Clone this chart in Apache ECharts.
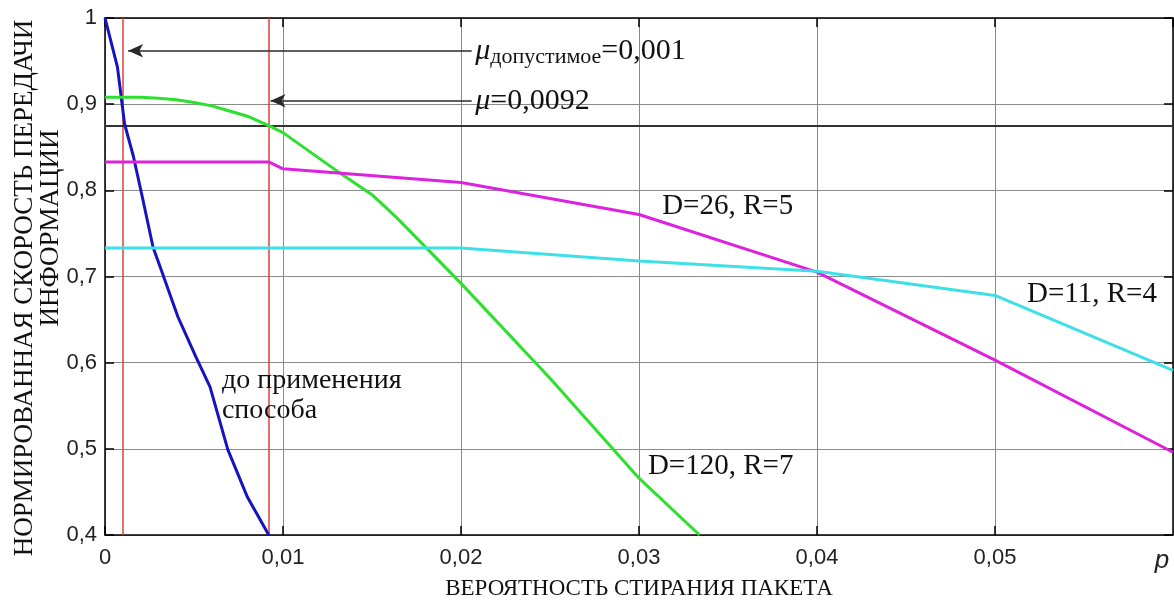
<!DOCTYPE html>
<html>
<head>
<meta charset="utf-8">
<script src="https://cdn.jsdelivr.net/npm/echarts@6/dist/echarts.min.js"></script>
<style>
  html, body { margin: 0; padding: 0; background: #fff; }
  #main { width: 1174px; height: 602px; }
</style>
</head>
<body>
<div id="main"></div>
<script>
// до применения способа
var blueP = [0, 0.0007, 0.0011, 0.0016, 0.0021, 0.0027, 0.0031, 0.0041, 0.0051, 0.0059, 0.0069, 0.0080, 0.0092];
var blueV = [1.0, 0.943, 0.877, 0.839, 0.792, 0.734, 0.711, 0.653, 0.607, 0.572, 0.499, 0.444, 0.40];
// D=120, R=7
var greenP = [0, 0.001, 0.002, 0.003, 0.004, 0.005, 0.006, 0.007, 0.008, 0.0092, 0.01, 0.0132, 0.015, 0.0164, 0.02, 0.025, 0.03, 0.0334];
var greenV = [0.908, 0.908, 0.908, 0.907, 0.905, 0.902, 0.898, 0.892, 0.886, 0.875, 0.867, 0.82, 0.795, 0.768, 0.692, 0.582, 0.466, 0.40];
// D=26, R=5
var magentaP = [0, 0.0092, 0.01, 0.02, 0.03, 0.04, 0.05, 0.06];
var magentaV = [0.833, 0.833, 0.825, 0.809, 0.772, 0.705, 0.603, 0.496];
// D=11, R=4
var cyanP = [0, 0.02, 0.03, 0.04, 0.05, 0.06];
var cyanV = [0.733, 0.733, 0.718, 0.706, 0.678, 0.591];

var muAllowed = 0.001;
var muReal = 0.0092;
var rateLevel = 0.875;

function pairs(xs, ys) {
  return xs.map(function (x, i) { return [x, ys[i]]; });
}

var serif = '"Liberation Serif", "Times New Roman", serif';
var sans = '"Liberation Sans", Arial, sans-serif';

var myChart = echarts.init(document.getElementById('main'));

function curve(name, xs, ys, color) {
  return {
    name: name,
    type: 'line',
    data: pairs(xs, ys),
    symbol: 'none',
    lineStyle: { color: color, width: 3 },
    z: 5
  };
}

var boxAxis = {
  axisLine: { show: true, onZero: false, lineStyle: { color: '#000', width: 1.5 } },
  axisTick: { show: true, inside: true, length: 9, lineStyle: { color: '#000', width: 1.5 } },
  axisLabel: { show: false },
  splitLine: { show: false }
};

var option = {
  animation: false,
  grid: { left: 105, right: 1, top: 18, bottom: 67, containLabel: false },
  xAxis: [
    {
      type: 'value', min: 0, max: 0.06, interval: 0.01, position: 'bottom',
      axisLine: { onZero: false, lineStyle: { color: '#000', width: 1.5 } },
      axisTick: { inside: true, length: 9, lineStyle: { color: '#000', width: 1.5 } },
      splitLine: { show: true, lineStyle: { color: '#8a8a8a', width: 1 } },
      axisLabel: {
        margin: 12, fontSize: 22, color: '#222', fontFamily: sans, showMaxLabel: false,
        formatter: function (v) { return v === 0 ? '0' : v.toFixed(2).replace('.', ','); }
      }
    },
    Object.assign({ type: 'value', min: 0, max: 0.06, interval: 0.01, position: 'top' }, boxAxis)
  ],
  yAxis: [
    {
      type: 'value', min: 0.4, max: 1, interval: 0.1, position: 'left',
      axisLine: { show: true, lineStyle: { color: '#000', width: 1.5 } },
      axisTick: { show: true, inside: true, length: 9, lineStyle: { color: '#000', width: 1.5 } },
      splitLine: { show: true, lineStyle: { color: '#8a8a8a', width: 1 } },
      axisLabel: {
        margin: 8, fontSize: 22, color: '#222', fontFamily: sans,
        formatter: function (v) { return String(+v.toFixed(1)).replace('.', ','); }
      }
    },
    Object.assign({ type: 'value', min: 0.4, max: 1, interval: 0.1, position: 'right' }, boxAxis)
  ],
  series: [
    {
      name: 'guides',
      type: 'line',
      data: [],
      z: 3,
      markLine: {
        silent: true,
        precision: 5,
        symbol: 'none',
        label: { show: false },
        data: [
          { xAxis: muAllowed, lineStyle: { color: '#e0403a', width: 1.5, type: 'solid' } },
          { xAxis: muReal, lineStyle: { color: '#e0403a', width: 1.5, type: 'solid' } },
          { yAxis: rateLevel, lineStyle: { color: '#333', width: 2, type: 'solid' } }
        ]
      }
    },
    {
      name: 'arrows',
      type: 'line',
      data: [],
      z: 4,
      markLine: {
        silent: true,
        precision: 5,
        symbol: ['none', 'arrow'],
        symbolSize: [10, 15],
        label: { show: false },
        lineStyle: { color: '#2a2a2a', width: 1.5, type: 'solid' },
        data: [
          [{ coord: [0.0206, 0.962] }, { coord: [0.0013, 0.962] }],
          [{ coord: [0.0206, 0.904] }, { coord: [0.0093, 0.904] }]
        ]
      }
    },
    curve('до применения способа', blueP, blueV, '#1414c0'),
    curve('D=120, R=7', greenP, greenV, '#2de02d'),
    curve('D=26, R=5', magentaP, magentaV, '#dc22dc'),
    curve('D=11, R=4', cyanP, cyanV, '#3ee0e6')
  ]
};

myChart.setOption(option);

function px(p, v) {
  return myChart.convertToPixel({ gridIndex: 0 }, [p, v]);
}

function note(p, v, text, extra) {
  var pt = px(p, v);
  return {
    type: 'text',
    x: pt[0], y: pt[1], z: 20,
    style: Object.assign({
      text: text,
      fontFamily: serif,
      fontSize: 29,
      fill: '#111',
      align: 'left',
      verticalAlign: 'middle'
    }, extra || {})
  };
}

var muRich = {
  mu: { fontFamily: serif, fontStyle: 'italic', fontSize: 30, lineHeight: 34, fill: '#111' },
  sub: { fontFamily: serif, fontSize: 22, lineHeight: 22, verticalAlign: 'bottom', fill: '#111' },
  eq: { fontFamily: serif, fontSize: 30, lineHeight: 34, fill: '#111' }
};

myChart.setOption({
  graphic: [
    note(0.0208, 0.962, '{mu|μ}{sub|допустимое}{eq|=0,001}', { rich: muRich }),
    note(0.0208, 0.904, '{mu|μ}{eq|=0,0092}', { rich: muRich }),
    note(0.00657, 0.562, 'до применения\nспособа', { lineHeight: 30, fontSize: 28 }),
    note(0.0305, 0.48, 'D=120, R=7'),
    note(0.0313, 0.781, 'D=26, R=5'),
    note(0.0518, 0.679, 'D=11, R=4'),
    {
      type: 'text', x: 1162, y: 561, z: 20,
      style: { text: 'p', fontFamily: sans, fontStyle: 'italic', fontSize: 26, fill: '#222', align: 'center', verticalAlign: 'middle' }
    },
    {
      type: 'text', x: 639, y: 589, z: 20,
      style: { text: 'ВЕРОЯТНОСТЬ СТИРАНИЯ ПАКЕТА', fontFamily: serif, fontSize: 23, fill: '#111', align: 'center', verticalAlign: 'middle' }
    },
    {
      type: 'text', x: 25, y: 288, rotation: Math.PI / 2, z: 20,
      style: { text: 'НОРМИРОВАННАЯ СКОРОСТЬ ПЕРЕДАЧИ', fontFamily: serif, fontSize: 27, fill: '#111', align: 'center', verticalAlign: 'middle' }
    },
    {
      type: 'text', x: 51, y: 228, rotation: Math.PI / 2, z: 20,
      style: { text: 'ИНФОРМАЦИИ', fontFamily: serif, fontSize: 27, fill: '#111', align: 'center', verticalAlign: 'middle' }
    }
  ]
});
</script>
</body>
</html>
